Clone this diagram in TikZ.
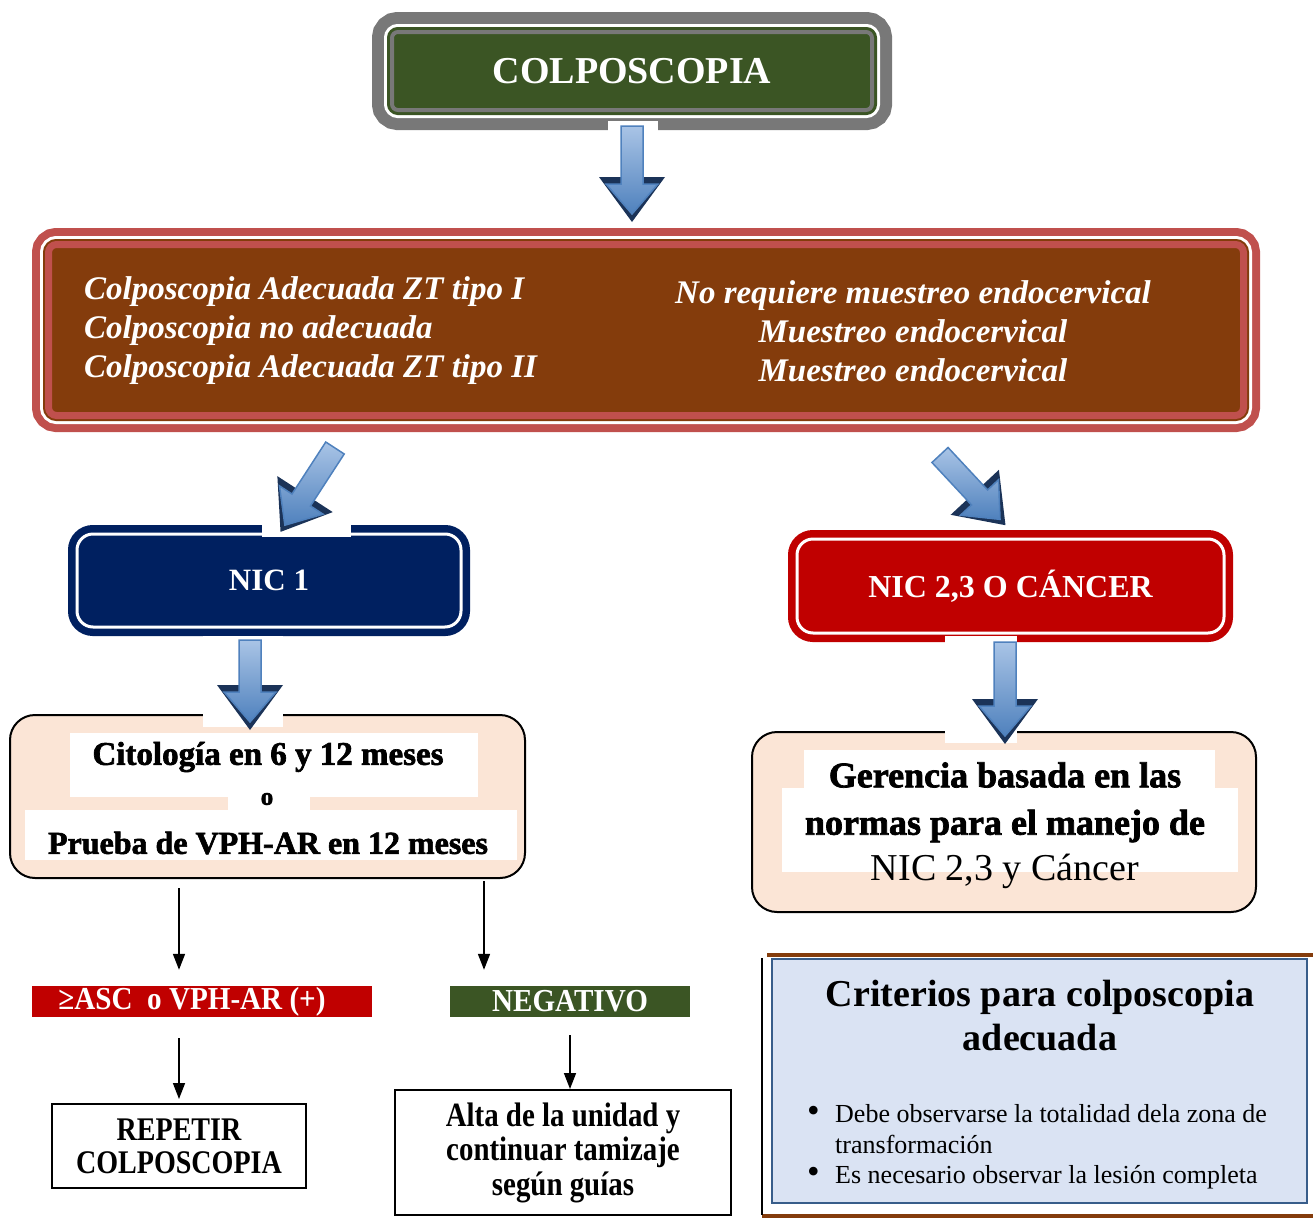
\documentclass[tikz,border=0pt]{standalone}
\usepackage{fontspec}
\setmainfont{Liberation Serif}
\newfontfamily\narrowfont{Liberation Serif}[FakeStretch=0.85]
\newfontfamily\barfont{Liberation Serif}[FakeStretch=0.91]
\newfontfamily\heavyfont{Liberation Serif}[FakeBold=2]
\usetikzlibrary{arrows.meta}
\usepackage{xcolor}

\definecolor{colpogreen}{HTML}{3B5524}
\definecolor{ringgray}{HTML}{787878}
\definecolor{evalbrown}{HTML}{843C0C}
\definecolor{evalred}{HTML}{C0504D}
\definecolor{nicnavy}{HTML}{002060}
\definecolor{nicred}{HTML}{C00000}
\definecolor{peach}{HTML}{FBE5D6}
\definecolor{critblue}{HTML}{DAE3F3}
\definecolor{critedge}{HTML}{385D8A}
\definecolor{arrowlight}{HTML}{A9C4E6}
\definecolor{arrowblue}{HTML}{4F81BD}
\definecolor{arrowdark}{HTML}{1B3358}

\newcommand{\fsz}[2]{\fontsize{#1}{#2}\selectfont}
\newcommand{\bluearrow}[3]{%
  \begin{scope}[shift={#1}, rotate=#2]
    \fill[arrowdark] (#3-37,-33) -- (#3+8,0) -- (#3-37,33) -- cycle;
    \shade[top color=arrowlight, bottom color=arrowblue, draw=arrowblue, line width=1.5pt]
      (0,-11) -- (#3-30,-11) -- (#3-30,-26) -- (#3,0) -- (#3-30,26) -- (#3-30,11) -- (0,11) -- cycle;
  \end{scope}}

\begin{document}
\begin{tikzpicture}[x=1pt, y=-1pt,
    colpobox/.style={fill=colpogreen, draw=ringgray, line width=4pt, rounded corners=6pt,
      minimum width=480pt, minimum height=78pt, inner sep=0pt, text=white, font=\bfseries\fsz{38}{44},
      preaction={draw=ringgray, line width=40pt}, preaction={draw=white, line width=16pt},
      preaction={draw=colpogreen, line width=10pt}},
    evalbox/.style={fill=evalbrown, draw=evalred, line width=7pt, rounded corners=8pt,
      minimum width=1195pt, minimum height=171pt,
      preaction={draw=evalred, line width=33pt}, preaction={draw=white, line width=17pt},
      preaction={draw=evalbrown, line width=11pt}},
    evaltext/.style={inner sep=0pt, text=white, font=\bfseries\itshape\fsz{33}{39}},
    nicbox/.style={fill=#1, draw=white, line width=3pt, rounded corners=16pt, inner sep=0pt,
      text=white, font=\bfseries\fsz{31}{36}, preaction={draw=#1, line width=18pt}},
    peachbox/.style={fill=peach, draw=black, line width=2pt, rounded corners=25pt},
    heavytext/.style={inner sep=0pt, font=\heavyfont\bfseries\fsz{33}{38}},
    barlabel/.style={inner sep=0pt, text=white, font=\barfont\bfseries\fsz{32}{34}},
    plainbox/.style={draw=black, line width=2pt, inner sep=0pt, align=center},
    thinarr/.style={-{Triangle[width=12pt,length=16pt]}, line width=1.6pt}]
\useasboundingbox (0,0) rectangle (1315,1218);

\node[colpobox] (colpo) at (632,71) {COLPOSCOPIA};
\node[evalbox] (eval) at (646,330) {};
\node[evaltext, anchor=west, align=left] (evalleft) at (84,331)
  {Colposcopia Adecuada ZT tipo I\\Colposcopia no adecuada\\Colposcopia Adecuada ZT tipo II};
\node[evaltext, align=center] (evalright) at (913,331)
  {No requiere muestreo endocervical\\Muestreo endocervical\\Muestreo endocervical};

\node[nicbox=nicnavy, minimum width=384pt, minimum height=93pt] (nic1) at (269,580.5) {NIC 1};
\node[nicbox=nicred, minimum width=427pt, minimum height=94pt, font=\bfseries\fsz{32}{36}] (nic23) at (1010.5,586) {NIC 2,3 O CÁNCER};

\node[peachbox, minimum width=515pt, minimum height=163pt] (citol) at (267.5,796.5) {};
\fill[white] (70,733) rectangle (478,797);
\fill[white] (228,797) rectangle (310,810);
\fill[white] (25,810) rectangle (517,860);
\node[heavytext] (citolfirst) at (268,757) {Citología en 6 y 12 meses};
\node[heavytext, font=\heavyfont\bfseries\fsz{25}{28}] (citolor) at (267,799) {o};
\node[heavytext, font=\heavyfont\bfseries\fsz{32}{38}] (citolsecond) at (268,843) {Prueba de VPH-AR en 12 meses};

\node[peachbox, minimum width=504pt, minimum height=180pt] (geren) at (1004,822) {};
\fill[white] (804,750) rectangle (1215,790);
\fill[white] (782,788) rectangle (1238,872);
\node[heavytext, font=\heavyfont\bfseries\fsz{36}{40}] (gerenfirst) at (1005,775) {Gerencia basada en las};
\node[heavytext, font=\heavyfont\bfseries\fsz{36}{40}] (gerensecond) at (1005,826) {normas para el manejo de};
\node[inner sep=0pt, font=\fsz{38}{40}] (gerenthird) at (1005,871) {NIC 2,3 y Cáncer};

\node[barlabel, fill=nicred, minimum width=340pt, minimum height=31pt] (asc) at (202,1001.5) {≥ASC\ \ o VPH-AR (+)\hspace*{20pt}};
\node[barlabel, fill=colpogreen, minimum width=240pt, minimum height=31pt] (neg) at (570,1001.5) {NEGATIVO};
\coordinate (negin) at ([xshift=-86pt]neg.north);

\node[plainbox, minimum width=254pt, minimum height=84pt, font=\narrowfont\bfseries\fsz{33}{33}] (repetir) at (179,1146)
  {REPETIR\\COLPOSCOPIA};
\node[plainbox, minimum width=336pt, minimum height=125pt, font=\narrowfont\bfseries\fsz{34}{34.5}] (alta) at (563,1152.5)
  {Alta de la unidad y\\continuar tamizaje\\según guías};

\fill[evalbrown] (767,953) rectangle (1313,957);
\fill[evalbrown] (762,1214) rectangle (1313,1218);
\draw[line width=2pt] (762,958) -- (762,1215);
\node[fill=critblue, draw=critedge, line width=2.5pt, minimum width=535pt, minimum height=244pt] (crit) at (1039.5,1081) {};
\node[inner sep=0pt, align=center, font=\bfseries\fsz{38}{44}] (crittitle) at (1040,1016)
  {Criterios para colposcopia\\adecuada};
\node[inner sep=0pt, anchor=west, font=\fsz{26}{30.5}] (crititems) at (807,1147)
  {\begin{tabular}{@{}p{28pt}@{}l@{}}
   {\fsz{36}{30.5}\textbullet} & Debe observarse la totalidad dela zona de\\
               & transformación\\
   {\fsz{36}{30.5}\textbullet} & Es necesario observar la lesión completa
   \end{tabular}};

\draw[thinarr, shorten <=9pt, shorten >=16pt] (citol.south -| repetir) -- (asc.north -| repetir);
\draw[thinarr, shorten <=2pt, shorten >=16pt] (citol.south -| negin) -- (negin);
\draw[thinarr, shorten <=21pt, shorten >=4pt] (asc.south -| repetir) -- (repetir.north);
\draw[thinarr, shorten <=18pt] (neg.south) -- (neg.south |- alta.north);

\fill[white] (608,121) rectangle (658,131);
\fill[white] (262,522) rectangle (351,537);
\fill[white] (203,636) rectangle (283,727);
\fill[white] (945,636) rectangle (1017,743);
\bluearrow{(632,126)}{-90}{88}
\bluearrow{(335,448)}{-123}{92}
\bluearrow{(940,455)}{-47}{88}
\bluearrow{(250,640)}{-90}{82}
\bluearrow{(1005,642)}{-90}{94}
\end{tikzpicture}
\end{document}
